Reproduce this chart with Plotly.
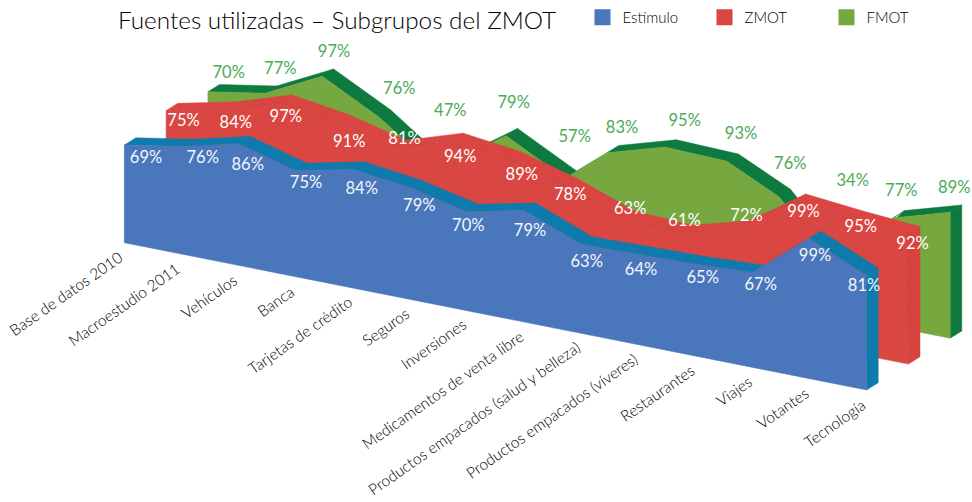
import plotly.graph_objects as go

# ---- data ----
categories = ["Base de datos 2010", "Macroestudio 2011", "Vehículos", "Banca",
              "Tarjetas de crédito", "Seguros", "Inversiones",
              "Medicamentos de venta libre", "Productos empacados (salud y belleza)",
              "Productos empacados (víveres)", "Restaurantes", "Viajes", "Votantes",
              "Tecnología"]
estimulo = [69, 76, 86, 75, 84, 79, 70, 79, 63, 64, 65, 67, 99, 81]
zmot = [75, 84, 97, 91, 81, 94, 89, 78, 63, 61, 72, 99, 95, 92]
fmot = [70, 77, 97, 76, 47, 79, 57, 83, 95, 93, 76, 34, 77, 89]
title = "Fuentes utilizadas – Subgrupos del ZMOT"

# ---- oblique projection of the 3D area chart ----
X0, Y0 = 124.3, 242.7      # origin of the front series
STEP_X, STEP_Y = 57.1, 11.33  # one category along the floor
UNIT = 1.415               # height of one percentage point
DEPTH = (11.6, -7.3)       # extrusion of a series
ROW = (41.8, -25.9)        # distance between series rows
FONT = "Lato"
# the back row of the original drifts sideways slightly around these categories
FMOT_DRIFT = [0, 0, 0, 0, 0, 12.6, 14.5, 0, 0, 5, 0, 0, 0, 0]
NO_DRIFT = [0] * len(categories)


def project(values, row, drift=NO_DRIFT):
    xs = [X0 + STEP_X * i + ROW[0] * row + drift[i] for i in range(len(values))]
    base = [Y0 + STEP_Y * i + ROW[1] * row for i in range(len(values))]
    top = [b - v * UNIT for b, v in zip(base, values)]
    return xs, base, top


series = [
    dict(name="FMOT", values=fmot, row=2, drift=FMOT_DRIFT, face="#76a83f", top="#0f7a40", side="#0f7a40"),
    dict(name="ZMOT", values=zmot, row=1, drift=NO_DRIFT, face="#da4642", top="#da4541", side="#d8433f"),
    dict(name="Estímulo", values=estimulo, row=0, drift=NO_DRIFT, face="#4a76bb", top="#0f7bac", side="#0f7bac"),
]

fig = go.Figure()


def poly(x, y, color, line=None):
    fig.add_trace(go.Scatter(x=x, y=y, mode="lines", fill="toself", fillcolor=color,
                             line=dict(color=line or color, width=0.5),
                             hoverinfo="skip", showlegend=False))


for s in series:
    xs, base, top = project(s["values"], s["row"], s["drift"])
    dx, dy = DEPTH
    # top surface, one quad per segment
    qx, qy = [], []
    for i in range(len(xs) - 1):
        qx += [xs[i], xs[i + 1], xs[i + 1] + dx, xs[i] + dx, xs[i], None]
        qy += [top[i], top[i + 1], top[i + 1] + dy, top[i] + dy, top[i], None]
    poly(qx, qy, s["top"])
    # right-hand wall
    poly([xs[-1], xs[-1] + dx, xs[-1] + dx, xs[-1], xs[-1]],
         [top[-1], top[-1] + dy, base[-1] + dy, base[-1], top[-1]], s["side"])
    # front face
    poly(xs + xs[::-1] + [xs[0]], top + base[::-1] + [top[0]], s["face"])
    if s["name"] == "ZMOT":
        # soft ridge between the top surface and the face
        fig.add_trace(go.Scatter(x=xs + [xs[-1]], y=top + [base[-1]], mode="lines",
                                 line=dict(color="rgba(110,60,60,0.25)", width=1, dash="dot"),
                                 hoverinfo="skip", showlegend=False))

# ---- value labels ----
label_nudges = {
    "Estímulo": ([21.7, 21.3, 9.2, 10.4, 9, 9.5, 1.4, 6, 5.6, 2.8, 7.4, 8.3, 5.5, -2.6],
                 [13.9, 12.5, 22, 13.4, 20.9, 19.7, 15.6, 21.5, 18.4, 16.9, 15.3, 13.1, 18.6, 11.3],
                 "#f4f7fc"),
    "ZMOT": ([17.4, 12.6, 5.5, 11.8, 10, 8.6, 13.1, 4.4, 7.3, 4.5, 9.4, 9.3, 9.5, 4.1],
             [10.8, 14.9, 15.9, 20.8, -8, 17, 16.9, 10.1, -8.5, -10.7, -11.4, 11.8, 9.1, 11.2],
             "#ffffff"),
    "FMOT": ([20.8, 15.3, 11.9, 20.1, 14, 7.7, 9.7, 14.4, 20, 14.2, 11.4, 16.7, 8.2, 4.1],
             [-18, -23.3, -23.4, -27.5, -58.1, -31.6, -40, -23.6, -24.9, -26.4, -31.8, -85.8, -26.3, -23.4],
             "#4aab55"),
}
for s in series:
    xs, base, top = project(s["values"], s["row"], s["drift"])
    ndx, ndy, col = label_nudges[s["name"]]
    fig.add_trace(go.Scatter(
        x=[a + b for a, b in zip(xs, ndx)], y=[a + b for a, b in zip(top, ndy)],
        mode="text", text=[f"{v}%" for v in s["values"]],
        textposition="middle center",
        textfont=dict(family=FONT, size=16.5, color=col, weight=400),
        hoverinfo="skip", showlegend=False))

# ---- legend ----
for s in series[::-1]:
    fig.add_trace(go.Scatter(x=[None], y=[None], mode="markers", name=s["name"],
                             marker=dict(symbol="square", size=17, color=s["face"])))

# ---- category labels ----
xs, base, _ = project(estimulo, 0)
annotations = [
    dict(x=x + 5, y=b + 2, xref="x", yref="y", text=c, showarrow=False, textangle=-35,
         xanchor="right", yanchor="top", font=dict(family=FONT, size=15.5, color="#000000", weight=300))
    for x, b, c in zip(xs, base, categories)
]

fig.update_layout(
    width=972, height=502, margin=dict(l=0, r=0, t=0, b=0),
    paper_bgcolor="white", plot_bgcolor="white",
    xaxis=dict(range=[0, 972], visible=False, fixedrange=True),
    yaxis=dict(range=[502, 0], visible=False, fixedrange=True),
    title=dict(text=title, x=118 / 972, xanchor="left", y=1 - 20 / 502, yanchor="middle",
               font=dict(family=FONT, size=24.3, color="#000000", weight=300)),
    legend=dict(orientation="h", x=582.5 / 972, xanchor="left", y=1 - 1 / 502, yanchor="top",
                entrywidth=77, entrywidthmode="pixels", itemwidth=30,
                font=dict(family=FONT, size=15, color="#000000", weight=300),
                bgcolor="rgba(0,0,0,0)", traceorder="normal"),
    annotations=annotations,
)
fig.write_html("out.html", config=dict(displayModeBar=False),
               post_script="document.body.style.margin='0';document.documentElement.style.overflow='hidden';")
